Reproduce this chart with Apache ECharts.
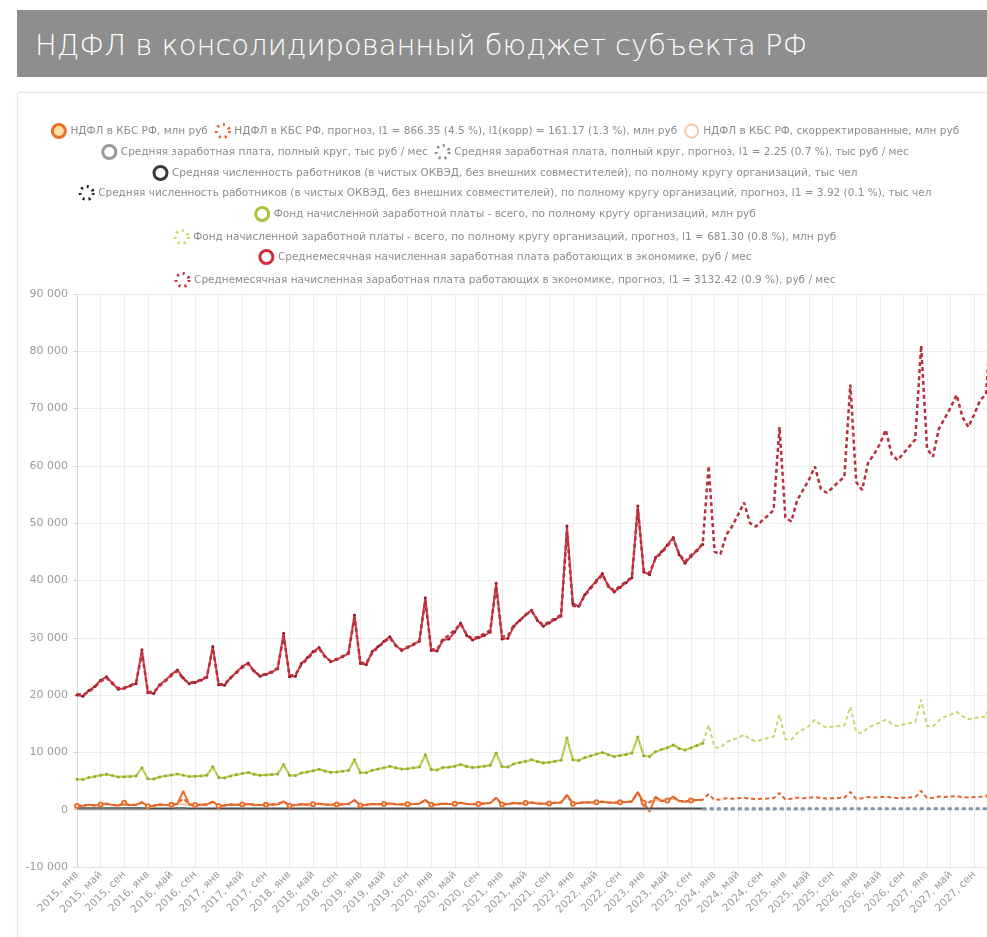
<!DOCTYPE html>
<html lang="ru">
<head>
<meta charset="utf-8">
<title>НДФЛ в консолидированный бюджет субъекта РФ</title>
<script src="https://cdn.jsdelivr.net/npm/echarts@6/dist/echarts.min.js"></script>
<style>
  html, body { margin: 0; padding: 0; background: #fff; overflow: hidden; width: 987px; height: 937px; }
  .header {
    position: absolute; left: 17px; top: 10px; width: 1000px; height: 67px;
    background: #8e8e8e; color: #fff; box-sizing: border-box; padding-left: 18px;
    font-family: "DejaVu Sans", sans-serif; font-size: 29px; font-weight: 300; line-height: 70px;
  }
  .panel {
    position: absolute; left: 17px; top: 92px; width: 1000px; height: 900px;
    border: 1px solid #e6e6e6; border-radius: 3px; box-shadow: 0 0 3px rgba(0,0,0,0.08);
  }
  #chart { position: absolute; left: 18px; top: 93px; width: 974px; height: 860px; }
</style>
</head>
<body>
<div class="header">НДФЛ в консолидированный бюджет субъекта РФ</div>
<div class="panel"></div>
<div id="chart"></div>
<script>
// подписи оси X
const years = [2015, 2016, 2017, 2018, 2019, 2020, 2021, 2022, 2023, 2024, 2025, 2026, 2027];
const months = ["янв", "фев", "мар", "апр", "май", "июн", "июл", "авг", "сен", "окт", "ноя", "дек"];

// Среднемесячная начисленная з/п, руб / мес (факт 2015-01 .. 2023-11)
const wageFact = [
  20000, 19800, 20800, 21500, 22600, 23200, 22100, 21000, 21200, 21600, 22000, 27900,
  20400, 20300, 21800, 22600, 23600, 24400, 23000, 22000, 22200, 22600, 23100, 28500,
  21800, 21700, 23000, 24000, 25000, 25600, 24200, 23300, 23600, 24000, 24600, 30800,
  23200, 23300, 25500, 26500, 27600, 28300, 26800, 25800, 26200, 26700, 27300, 34000,
  25500, 25300, 27600, 28500, 29400, 30200, 28700, 27800, 28300, 28800, 29400, 37000,
  27800, 27700, 29600, 29800, 31000, 32600, 30400, 29600, 30000, 30400, 31000, 39500,
  29800, 29900, 32000, 33000, 34000, 34800, 33000, 32000, 32600, 33200, 33800, 49500,
  36000, 35500, 37500, 38800, 40000, 41200, 39000, 38000, 38800, 39600, 40500, 53000,
  41500, 41000, 44000, 45000, 46200, 47500, 44500, 43000, 44200, 45200, 46300
];
// прогноз (2015-01 .. 2027-12)
const wageFcst = [
  20200, 20000, 20600, 21400, 22400, 23000, 22000, 21200, 21300, 21700, 22100, 27400,
  20600, 20500, 21600, 22500, 23400, 24200, 22800, 22100, 22300, 22700, 23200, 28200,
  21900, 21900, 23000, 23900, 24800, 25500, 24100, 23400, 23700, 24100, 24700, 30400,
  23400, 23500, 25300, 26300, 27400, 28100, 26700, 25900, 26300, 26800, 27400, 33600,
  25700, 25500, 27400, 28300, 29300, 30000, 28600, 27900, 28400, 28900, 29500, 36500,
  28000, 27900, 29800, 30400, 31400, 32400, 30600, 29800, 30200, 30700, 31300, 39000,
  30200, 30300, 32200, 33000, 34000, 34700, 33100, 32200, 32800, 33400, 34000, 48500,
  35600, 35400, 37400, 38600, 39800, 41000, 39100, 38200, 39000, 39800, 40600, 52500,
  41800, 41300, 43800, 44800, 46000, 47300, 44700, 43300, 44400, 45300, 46400, 60000,
  45000, 44600, 48000, 49500, 51500, 53600, 50000, 49400, 50400, 51300, 52300, 66800,
  51000, 50300, 54000, 55800, 57600, 59900, 56000, 55300, 56200, 57200, 58100, 74200,
  57200, 55800, 60500, 62000, 63800, 66300, 62000, 61000, 62200, 63400, 64600, 81000,
  63000, 61600, 66500, 68300, 70200, 72400, 68500, 66800, 69000, 71500, 72500, 88000
];

// Фонд начисленной заработной платы, млн руб
const fundFact = [
  5300, 5250, 5600, 5800, 6000, 6200, 5950, 5700, 5750, 5800, 5900, 7300,
  5400, 5350, 5700, 5900, 6050, 6250, 6000, 5800, 5850, 5900, 6000, 7500,
  5600, 5550, 5900, 6100, 6300, 6500, 6200, 6000, 6050, 6150, 6250, 7900,
  6000, 5950, 6400, 6600, 6800, 7050, 6750, 6550, 6600, 6700, 6850, 8700,
  6500, 6450, 6900, 7100, 7300, 7600, 7300, 7100, 7150, 7300, 7450, 9600,
  7000, 6950, 7350, 7400, 7600, 7900, 7550, 7350, 7450, 7600, 7750, 9900,
  7500, 7450, 8000, 8250, 8450, 8700, 8400, 8150, 8300, 8450, 8650, 12500,
  8700, 8600, 9100, 9400, 9700, 10000, 9600, 9300, 9450, 9650, 9900, 12700,
  9400, 9300, 10100, 10500, 10800, 11300, 10700, 10400, 10800, 11200, 11600
];
const fundFcst = [
  5350, 5300, 5550, 5750, 5950, 6150, 5900, 5750, 5800, 5850, 5950, 7200,
  5450, 5400, 5700, 5900, 6050, 6250, 5950, 5800, 5850, 5950, 6050, 7500,
  5650, 5600, 5900, 6100, 6250, 6450, 6200, 6000, 6100, 6200, 6300, 7800,
  6000, 5950, 6350, 6550, 6750, 7000, 6700, 6500, 6600, 6700, 6850, 8600,
  6500, 6450, 6850, 7050, 7250, 7550, 7250, 7100, 7150, 7300, 7450, 9400,
  7000, 6950, 7350, 7450, 7650, 7900, 7600, 7400, 7500, 7650, 7800, 9800,
  7550, 7500, 8000, 8250, 8450, 8700, 8400, 8200, 8300, 8450, 8650, 12200,
  8700, 8600, 9100, 9350, 9650, 9950, 9600, 9350, 9500, 9700, 9950, 12600,
  9450, 9350, 10100, 10450, 10800, 11250, 10750, 10450, 10800, 11150, 11550, 14800,
  10900, 10800, 11800, 12200, 12600, 13100, 12300, 11900, 12200, 12500, 12700, 16600,
  12300, 12200, 13400, 14000, 14600, 15700, 14800, 14300, 14500, 14600, 14700, 18000,
  13500, 13400, 14300, 14800, 15200, 15700, 15000, 14600, 14900, 15100, 15300, 19200,
  14600, 14500, 15600, 16200, 16600, 17100, 16300, 15800, 16000, 16100, 16300, 20000
];

// НДФЛ в КБС РФ, млн руб
const ndflFact = [
  650, 700, 850, 750, 900, 1100, 800, 750, 1200, 800, 850, 1300,
  600, 700, 900, 800, 850, 1000, 3300, 900, 800, 850, 900, 1400,
  650, 750, 900, 850, 900, 1000, 850, 800, 850, 900, 950, 1450,
  700, 800, 950, 900, 950, 1050, 900, 850, 900, 950, 1000, 1700,
  750, 850, 1000, 950, 1000, 1100, 950, 900, 950, 1000, 1050, 1700,
  850, 900, 1050, 1000, 1050, 1200, 1000, 950, 1000, 1100, 1150, 2100,
  900, 1000, 1150, 1100, 1150, 1250, 1100, 1050, 1100, 1200, 1250, 2600,
  1050, 1150, 1300, 1250, 1300, 1400, 1250, 1200, 1300, 1350, 1450, 3100,
  1200, -350, 2300, 1500, 1600, 2300, 1500, 1400, 1600, 1700, 1700
];
const ndflCorr = [
  650, 700, 850, 750, 900, 1000, 800, 750, 950, 800, 850, 1300,
  600, 700, 900, 800, 850, 1000, 950, 900, 800, 850, 900, 1400,
  650, 750, 900, 850, 900, 1000, 850, 800, 850, 900, 950, 1450,
  700, 800, 950, 900, 950, 1050, 900, 850, 900, 950, 1000, 1700,
  750, 850, 1000, 950, 1000, 1100, 950, 900, 950, 1000, 1050, 1700,
  850, 900, 1050, 1000, 1050, 1200, 1000, 950, 1000, 1100, 1150, 2100,
  900, 1000, 1150, 1100, 1150, 1250, 1100, 1050, 1100, 1200, 1250, 2600,
  1050, 1150, 1300, 1250, 1300, 1400, 1250, 1200, 1300, 1350, 1450, 3100,
  1200, 1350, 1700, 1500, 1600, 1900, 1500, 1400, 1600, 1700, 1700
];
const ndflFcst = [
  700, 720, 820, 780, 880, 1000, 820, 780, 950, 820, 860, 1250,
  650, 720, 880, 820, 860, 980, 2000, 900, 820, 860, 900, 1350,
  680, 760, 890, 850, 900, 1000, 860, 820, 860, 900, 950, 1400,
  720, 800, 940, 900, 950, 1050, 900, 860, 900, 950, 1000, 1650,
  780, 860, 1000, 950, 1000, 1100, 950, 920, 960, 1000, 1050, 1700,
  850, 920, 1050, 1000, 1060, 1180, 1000, 960, 1010, 1100, 1150, 2050,
  920, 1000, 1150, 1100, 1150, 1250, 1100, 1060, 1110, 1200, 1250, 2500,
  1080, 1150, 1300, 1250, 1300, 1400, 1260, 1220, 1300, 1350, 1450, 3000,
  600, 1300, 2100, 1550, 1650, 2200, 1550, 1450, 1600, 1700, 1750, 2700,
  1700, 1800, 2000, 1900, 2000, 2100, 1900, 1850, 1900, 1950, 2000, 2900,
  1800, 1900, 2100, 2000, 2100, 2200, 2000, 1950, 2000, 2050, 2100, 3100,
  1900, 2000, 2200, 2100, 2200, 2300, 2100, 2050, 2100, 2150, 2200, 3300,
  2000, 2100, 2300, 2200, 2300, 2400, 2200, 2150, 2200, 2250, 2300, 3500
];

// Средняя заработная плата, полный круг, тыс руб / мес
const salaryFact = [
  20, 20, 21, 21, 23, 23, 22, 21, 21, 22, 22, 28,
  20, 20, 22, 23, 24, 24, 23, 22, 22, 23, 23, 29,
  22, 22, 23, 24, 25, 26, 24, 23, 24, 24, 25, 31,
  23, 23, 25, 26, 28, 28, 27, 26, 26, 27, 27, 34,
  25, 25, 28, 28, 29, 30, 29, 28, 28, 29, 29, 37,
  28, 28, 30, 30, 31, 33, 30, 30, 30, 30, 31, 39,
  30, 30, 32, 33, 34, 35, 33, 32, 33, 33, 34, 49,
  36, 35, 37, 39, 40, 41, 39, 38, 39, 40, 40, 53,
  41, 41, 44, 45, 46, 47, 44, 43, 44, 45, 46
];
// прогноз с 2023-11
const salaryFcst = [
  46, 60,
  45, 45, 48, 50, 52, 54, 50, 49, 50, 51, 52, 67,
  51, 50, 54, 56, 58, 60, 56, 55, 56, 57, 58, 74,
  57, 56, 60, 62, 64, 66, 62, 61, 62, 63, 65, 81,
  63, 62, 66, 68, 70, 72, 68, 67, 69, 71, 72, 88
];

// Средняя численность работников, тыс чел
const staffFact = [
  276, 275, 275, 276, 277, 278, 278, 277, 276, 276, 275, 275,
  273, 272, 272, 273, 274, 275, 275, 274, 273, 273, 272, 272,
  270, 269, 269, 270, 271, 272, 272, 271, 270, 270, 269, 269,
  268, 267, 267, 268, 269, 270, 270, 269, 268, 268, 267, 267,
  266, 265, 265, 266, 267, 268, 268, 267, 266, 266, 265, 265,
  263, 262, 261, 258, 259, 261, 262, 262, 261, 261, 260, 260,
  259, 258, 258, 259, 260, 261, 261, 260, 259, 259, 258, 258,
  256, 255, 255, 256, 257, 258, 258, 257, 256, 256, 255, 255,
  253, 252, 252, 253, 254, 255, 255, 254, 253, 253, 252
];
const staffFcst = [
  252, 252,
  250, 249, 249, 250, 251, 252, 252, 251, 250, 250, 249, 249,
  247, 246, 246, 247, 248, 249, 249, 248, 247, 247, 246, 246,
  244, 243, 243, 244, 245, 246, 246, 245, 244, 244, 243, 243,
  241, 240, 240, 241, 242, 243, 243, 242, 241, 241, 240, 240
];

const seriesNames = [
  "НДФЛ в КБС РФ, млн руб",
  "НДФЛ в КБС РФ, прогноз, l1 = 866.35 (4.5 %), l1(корр) = 161.17 (1.3 %), млн руб",
  "НДФЛ в КБС РФ, скорректированные, млн руб",
  "Средняя заработная плата, полный круг, тыс руб / мес",
  "Средняя заработная плата, полный круг, прогноз, l1 = 2.25 (0.7 %), тыс руб / мес",
  "Средняя численность работников (в чистых ОКВЭД, без внешних совместителей), по полному кругу организаций, тыс чел",
  "Средняя численность работников (в чистых ОКВЭД, без внешних совместителей), по полному кругу организаций, прогноз, l1 = 3.92 (0.1 %), тыс чел",
  "Фонд начисленной заработной платы - всего, по полному кругу организаций, млн руб",
  "Фонд начисленной заработной платы - всего, по полному кругу организаций, прогноз, l1 = 681.30 (0.8 %), млн руб",
  "Среднемесячная начисленная заработная плата работающих в экономике, руб / мес",
  "Среднемесячная начисленная заработная плата работающих в экономике, прогноз, l1 = 3132.42 (0.9 %), руб / мес"
];

const FONT = "DejaVu Sans";

const categories = [];
years.forEach((y) => months.forEach((m) => categories.push(y + ", " + m)));

// прогнозы, начинающиеся позже, дополняем пустыми значениями слева
function pad(arr) {
  return new Array(categories.length - arr.length).fill(null).concat(arr);
}

function fmt(v) {
  const s = String(Math.abs(v)).replace(/\B(?=(\d{3})+(?!\d))/g, " ");
  return (v < 0 ? "-" : "") + s;
}

// значки легенды: кольцо для факта, пунктирное кольцо для прогноза
const ring = (c, fill, w) => ({ color: fill || "#fff", borderColor: c, borderWidth: w || 3 });
const dots = (c) => ({ color: "rgba(255,255,255,0)", borderColor: c, borderWidth: 3, borderType: [2, 4] });
const legendIcons = [
  ring("#e8702e", "#fde2a6"),
  dots("#e8602c"),
  ring("#f7c8a6", "#fff", 2),
  ring("#9a9a9a"),
  dots("#8a8a8a"),
  ring("#3a3a3a"),
  dots("#222"),
  ring("#a9c43b"),
  dots("#c3d872"),
  ring("#c8313d"),
  dots("#c0303a")
];

function legendRow(top, idx) {
  return {
    top: top,
    left: "center",
    padding: 0,
    itemGap: 7,
    itemWidth: 13,
    itemHeight: 13,
    icon: "circle",
    textStyle: { fontFamily: FONT, fontSize: 10.5, color: "#8c8c8c" },
    data: idx.map((i) => ({ name: seriesNames[i], itemStyle: legendIcons[i] }))
  };
}

function line(i, data, color, opts) {
  opts = opts || {};
  return {
    name: seriesNames[i],
    type: "line",
    data: data,
    z: opts.z || 2,
    symbol: opts.symbol || "circle",
    symbolSize: opts.symbolSize || 3,
    showSymbol: opts.showSymbol !== false,
    itemStyle: { color: opts.dot || color },
    lineStyle: { color: color, width: opts.width || 2, type: opts.dash || "solid" },
    emphasis: { disabled: true }
  };
}

const chart = echarts.init(document.getElementById("chart"));
chart.setOption({
  animation: false,
  textStyle: { fontFamily: FONT },
  legend: [
    legendRow(30, [0, 1, 2]),
    legendRow(51, [3, 4]),
    legendRow(72, [5]),
    legendRow(92, [6]),
    legendRow(113, [7]),
    legendRow(136, [8]),
    legendRow(156, [9]),
    legendRow(179, [10])
  ],
  grid: { left: 59, top: 201, width: 918, bottom: 86 },
  xAxis: {
    type: "category",
    data: categories,
    boundaryGap: false,
    axisLine: { onZero: false, lineStyle: { color: "#e2e2e2" } },
    axisTick: { show: false },
    axisLabel: { interval: 3, rotate: 45, fontSize: 10.5, color: "#9a9a9a", margin: 6 },
    splitLine: { show: true, interval: 3, lineStyle: { color: "#ececec" } }
  },
  yAxis: {
    type: "value",
    min: -10000,
    max: 90000,
    interval: 10000,
    axisLine: { show: true, lineStyle: { color: "#d6d6d6" } },
    axisTick: { show: true, length: 4, lineStyle: { color: "#d6d6d6" } },
    axisLabel: { fontSize: 11, color: "#9a9a9a", margin: 9, formatter: fmt },
    splitLine: { lineStyle: { color: "#ececec" } }
  },
  series: [
    line(2, ndflCorr, "#f7c8a6", { z: 1, showSymbol: false }),
    line(0, ndflFact, "#e8702e", { symbol: "emptyCircle", symbolSize: 4, dot: "#e8702e" }),
    line(1, ndflFcst, "#e8602c", { dash: [4, 3], showSymbol: false }),
    line(3, salaryFact, "#9a9a9a", { showSymbol: false, width: 1.5 }),
    line(4, pad(salaryFcst), "#8899aa", { dash: [4, 3], showSymbol: false }),
    line(5, staffFact, "#4a4a4a", { showSymbol: false, width: 1.5 }),
    line(6, pad(staffFcst), "#7f93aa", { dash: [4, 3], showSymbol: false }),
    line(7, fundFact, "#a9c43b", { dot: "#8fae2a" }),
    line(8, fundFcst, "#c3d872", { dash: [4, 3], showSymbol: false }),
    line(9, wageFact, "#d23c4a", { dot: "#8e1b2a" }),
    line(10, wageFcst, "#b8303c", { dash: [4, 3], showSymbol: false, width: 2.5, z: 3 })
  ]
});
</script>
</body>
</html>
